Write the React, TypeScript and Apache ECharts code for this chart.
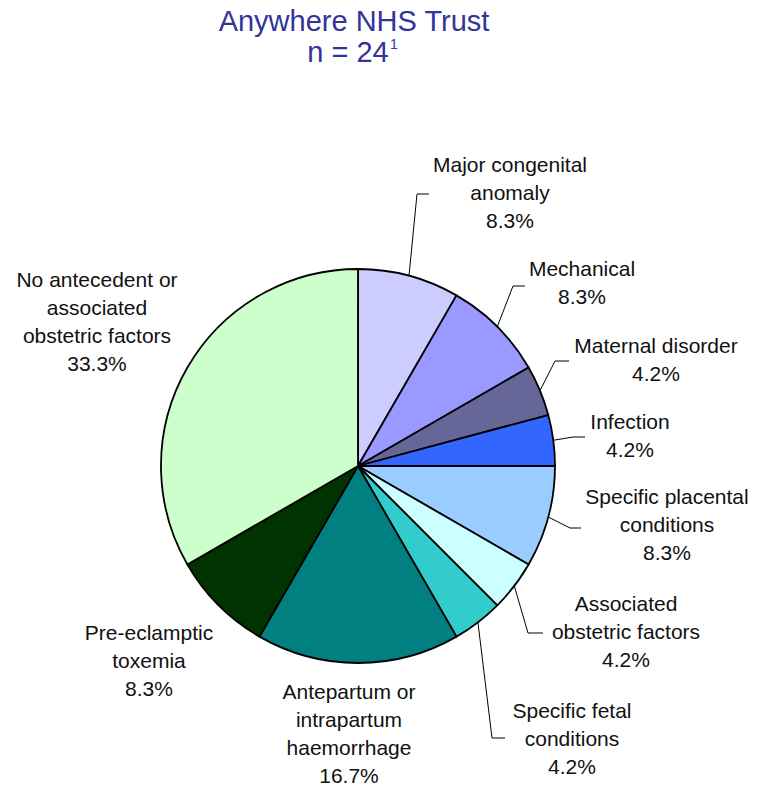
import React, { useEffect, useRef } from "react";
import * as echarts from "echarts";

const categories = [
  "Major congenital\nanomaly",
  "Mechanical",
  "Maternal disorder",
  "Infection",
  "Specific placental\nconditions",
  "Associated\nobstetric factors",
  "Specific fetal\nconditions",
  "Antepartum or\nintrapartum\nhaemorrhage",
  "Pre-eclamptic\ntoxemia",
  "No antecedent or\nassociated\nobstetric factors",
];
const counts = [2, 2, 1, 1, 2, 1, 1, 4, 2, 8];
const colors = [
  "#CCCCFF",
  "#9999FF",
  "#666699",
  "#3366FF",
  "#99CCFF",
  "#CCFFFF",
  "#33CCCC",
  "#008080",
  "#003300",
  "#CCFFCC",
];
const titleText = "Anywhere NHS Trust";
const nText = "n = 24";
const footnoteMark = "1";

// label layout (positions only)
const CX = 358;
const CY = 466;
const R = 197;
const labelPos: { x: number; y: number; elbow?: number[]; end?: number[] }[] = [
  { x: 510, y: 192, elbow: [417, 194], end: [429, 194] },
  { x: 582, y: 282, elbow: [513, 286], end: [525, 286] },
  { x: 656, y: 359, elbow: [555, 361], end: [569, 361] },
  { x: 630, y: 435, elbow: [573, 437], end: [585, 437] },
  { x: 667, y: 524, elbow: [570, 528], end: [581, 528] },
  { x: 626, y: 631, elbow: [528, 633], end: [543, 633] },
  { x: 572, y: 738, elbow: [492, 738], end: [505, 738] },
  { x: 349, y: 733 },
  { x: 149, y: 660 },
  { x: 97, y: 321 },
];

const FONT = "'Liberation Sans', Arial, sans-serif";

export default function App() {
  const ref = useRef<HTMLDivElement>(null);
  useEffect(() => {
    document.body.style.margin = "0";
    const chart = echarts.init(ref.current!, null, { renderer: "svg" });
    const total = counts.reduce((a, b) => a + b, 0);
    const edgeOf = (i: number) => {
      let cum = 0;
      for (let k = 0; k < i; k++) cum += counts[k];
      const th = (2 * Math.PI * (cum + counts[i] / 2)) / total;
      return [CX + R * Math.sin(th), CY - R * Math.cos(th)];
    };
    chart.setOption({
      animation: false,
      backgroundColor: "#fff",
      graphic: [
        {
          type: "text",
          x: 354,
          y: 21,
          style: {
            text: titleText,
            fill: "#333399",
            font: `29px ${FONT}`,
            textAlign: "center",
            textVerticalAlign: "middle",
          },
        },
        {
          type: "text",
          x: 348,
          y: 52,
          style: {
            text: nText,
            fill: "#333399",
            font: `29px ${FONT}`,
            textAlign: "center",
            textVerticalAlign: "middle",
          },
        },
        {
          type: "text",
          x: 394,
          y: 44,
          style: {
            text: footnoteMark,
            fill: "#333399",
            font: `14px ${FONT}`,
            textAlign: "center",
            textVerticalAlign: "middle",
          },
        },
      ],
      series: [
        {
          type: "pie",
          center: [CX, CY],
          radius: R,
          startAngle: 90,
          clockwise: true,
          avoidLabelOverlap: false,
          itemStyle: { borderColor: "#000", borderWidth: 1.8 },
          emphasis: { disabled: true },
          label: {
            show: true,
            position: "outside",
            color: "#111",
            fontFamily: FONT,
            fontSize: 21,
            lineHeight: 28,
            align: "center",
            formatter: (p: any) =>
              `${p.name}\n${((p.value / total) * 100).toFixed(1)}%`,
          },
          labelLine: {
            show: true,
            length: 10,
            length2: 10,
            smooth: false,
            lineStyle: { color: "#000", width: 1 },
          },
          labelLayout: (params: any) => {
            const i = params.dataIndex;
            const L = labelPos[i];
            const res: any = {
              x: L.x,
              y: L.y,
              align: "center",
              verticalAlign: "middle",
            };
            if (L.elbow) {
              res.labelLinePoints = [edgeOf(i), L.elbow, L.end];
            }
            return res;
          },
          data: categories.map((name, i) => ({
            name,
            value: counts[i],
            itemStyle: { color: colors[i] },
            labelLine: { show: !!labelPos[i].elbow },
          })),
        },
      ],
    });
    return () => chart.dispose();
  }, []);
  return <div ref={ref} style={{ width: 758, height: 792 }} />;
}
